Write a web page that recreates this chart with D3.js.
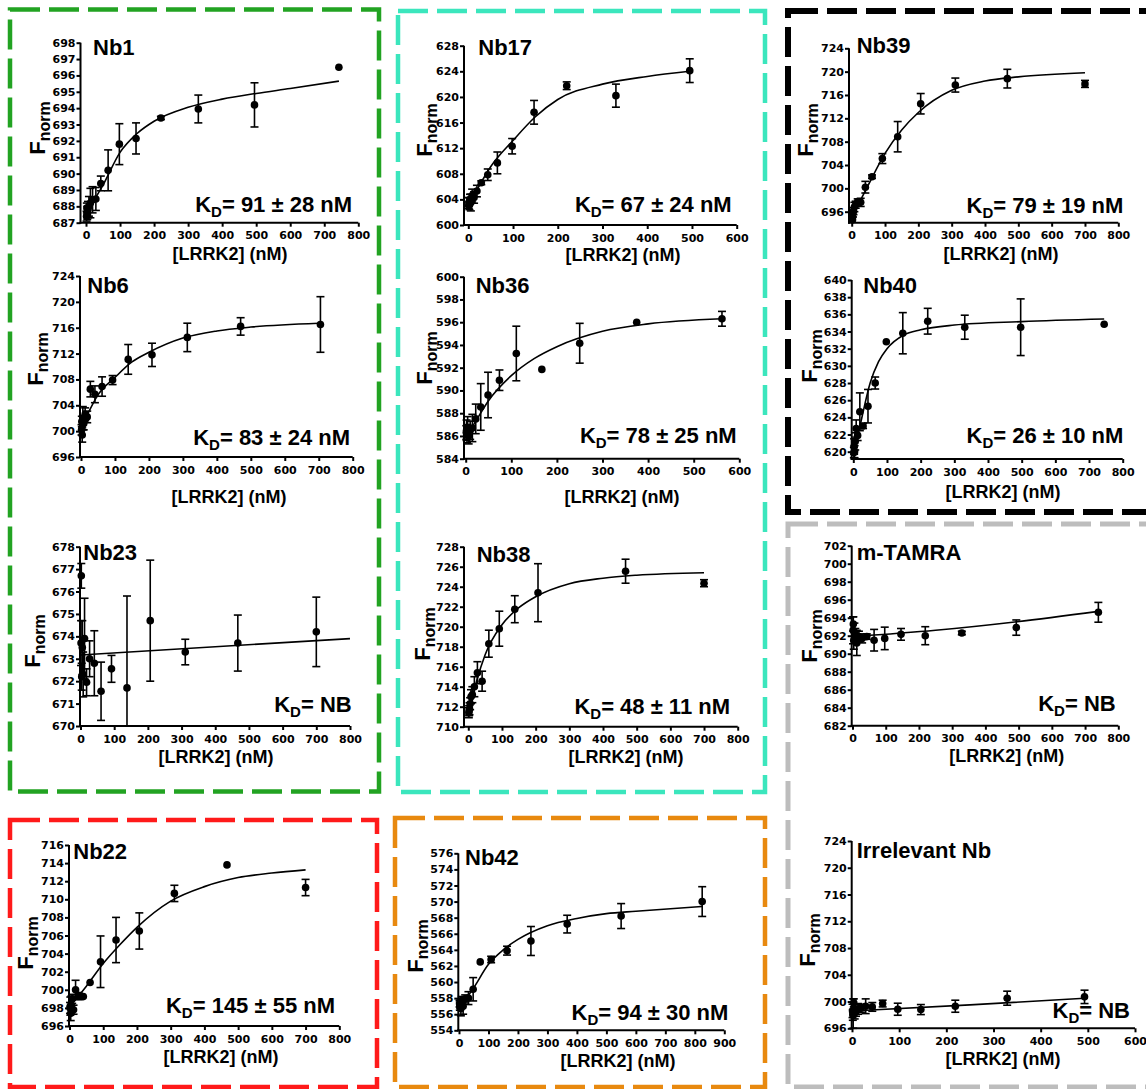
<!DOCTYPE html>
<html>
<head>
<meta charset="utf-8">
<script src="https://cdn.jsdelivr.net/npm/d3@7/dist/d3.min.js"></script>
<style>
  body { margin: 0; background: #fff; }
  svg text { font-family: "Liberation Sans", Arial, sans-serif; font-weight: bold; fill: #000; }
  .tick text { font-family: "DejaVu Sans", sans-serif; font-size: 11px; font-weight: bold; }
</style>
</head>
<body>
<script>
// tick labels shared by several panels
var xTicks600 = [0, 100, 200, 300, 400, 500, 600];
var xTicks800 = [0, 100, 200, 300, 400, 500, 600, 700, 800];
var xTicks900 = [0, 100, 200, 300, 400, 500, 600, 700, 800, 900];

// Nb1
var nb1Conc  = [743, 495, 330, 220, 147, 98, 65, 43.5, 29, 19.3, 12.9, 8.6, 5.7, 3.8, 2.5, 1.7];
var nb1Fnorm = [696.5, 694.2, 693.95, 693.4, 692.15, 691.8, 690.2, 689.4, 688.45, 688.4, 688.2, 688.0, 687.8, 687.6, 687.9, 687.4];
var nb1Sd    = [0, 1.35, 0.85, 0.1, 0.95, 1.25, 1.25, 0.45, 0.7, 0.8, 0.9, 0.6, 0.5, 0.4, 0.3, 0.3];
var nb1FitX  = [0, 25, 50, 100, 150, 200, 300, 400, 500, 600, 743];
var nb1FitY  = [687.4, 688.4, 689.3, 691.3, 692.45, 693.2, 694.05, 694.55, 694.9, 695.2, 695.65];
var nb1YTicks = [687, 688, 689, 690, 691, 692, 693, 694, 695, 696, 697, 698];

// Nb17
var nb17Conc  = [495, 330, 220, 147, 98, 65, 43.5, 29, 19.3, 12.9, 8.6, 5.7, 3.8, 2.5, 1.7, 1.1];
var nb17Fnorm = [624.1, 620.2, 621.75, 617.6, 612.3, 609.7, 607.85, 606.6, 605.3, 604.3, 604.6, 603.5, 604.0, 603.3, 603.6, 603.1];
var nb17Sd    = [1.85, 1.8, 0.6, 1.85, 1.2, 1.7, 0.9, 0.3, 0.9, 0.9, 1.0, 1.3, 0.8, 0.9, 0.7, 0.5];
var nb17FitX  = [0, 25, 50, 100, 150, 200, 300, 400, 495];
var nb17FitY  = [603.0, 606.2, 609.1, 613.2, 616.9, 619.6, 622.0, 623.2, 624.0];
var nb17YTicks = [600, 604, 608, 612, 616, 620, 624, 628];

// Nb39
var nb39Conc  = [700, 467, 311, 207, 138, 92, 61, 41, 27, 18, 12, 8, 5.4, 3.6, 2.4, 1.6];
var nb39Fnorm = [717.9, 718.8, 717.7, 714.5, 708.85, 705.1, 702.0, 700.2, 697.6, 697.7, 697.2, 696.8, 696.1, 695.7, 694.6, 695.5];
var nb39Sd    = [0.6, 1.6, 1.2, 1.75, 2.6, 0.85, 0.3, 1.0, 0.7, 0.5, 0.6, 0.8, 0.6, 0.6, 0.5, 0.5];
var nb39FitX  = [0, 25, 50, 100, 150, 200, 300, 400, 500, 700];
var nb39FitY  = [695.2, 697.8, 700.6, 706.0, 710.0, 713.0, 716.8, 718.4, 719.1, 719.8];
var nb39YTicks = [696, 700, 704, 708, 712, 716, 720, 724];

// Nb6
var nb6Conc  = [705, 470, 313, 209, 139, 93, 62, 41, 27.5, 18.3, 12.2, 8.1, 5.4, 3.6, 2.4, 1.6];
var nb6Fnorm = [716.5, 716.2, 714.5, 711.8, 711.1, 707.9, 706.9, 705.7, 706.5, 702.2, 702.6, 701.2, 702.0, 699.4, 701.5, 700.2];
var nb6Sd    = [4.3, 1.35, 2.2, 1.8, 2.3, 0.7, 1.5, 1.3, 1.2, 0.9, 1.0, 1.0, 1.8, 1.1, 0.8, 0.8];
var nb6FitX  = [0, 25, 50, 100, 150, 200, 300, 400, 500, 700];
var nb6FitY  = [700.4, 703.2, 705.6, 708.3, 710.7, 712.2, 714.4, 715.5, 716.1, 716.7];
var nb6YTicks = [696, 700, 704, 708, 712, 716, 720, 724];

// Nb36
var nb36Conc  = [562, 375, 250, 167, 111, 74, 49, 33, 22, 14.6, 9.8, 6.5, 4.3, 2.9, 1.9, 1.3];
var nb36Fnorm = [596.3, 596.0, 594.15, 591.85, 593.25, 590.9, 589.6, 588.55, 587.5, 586.7, 586.5, 586.0, 586.7, 586.2, 586.5, 586.3];
var nb36Sd    = [0.65, 0, 1.75, 0, 2.4, 0.9, 2.0, 2.05, 1.3, 1.2, 0.8, 0.7, 1.0, 0.8, 0.9, 0.6];
var nb36FitX  = [0, 25, 50, 100, 150, 200, 300, 400, 562];
var nb36FitY  = [585.8, 587.5, 589.1, 591.3, 592.8, 593.85, 595.2, 595.85, 596.3];
var nb36YTicks = [584, 586, 588, 590, 592, 594, 596, 598, 600];

// Nb40
var nb40Conc  = [745, 497, 331, 221, 147, 98, 65, 43.6, 29, 19.4, 12.9, 8.6, 5.7, 3.8, 2.5, 1.7];
var nb40Fnorm = [634.85, 634.5, 634.5, 635.2, 633.8, 632.8, 628.0, 625.3, 623.0, 624.65, 621.9, 622.7, 621.2, 620.0, 620.6, 619.9];
var nb40Sd    = [0, 3.3, 1.4, 1.5, 2.4, 0, 0.7, 1.95, 0.3, 2.2, 0.6, 1.0, 1.0, 0.7, 0.9, 0.6];
var nb40FitX  = [0, 25, 50, 75, 100, 150, 200, 300, 500, 745];
var nb40FitY  = [619.5, 623.9, 628.0, 630.5, 632.0, 633.6, 634.2, 634.75, 635.15, 635.45];
var nb40YTicks = [620, 622, 624, 626, 628, 630, 632, 634, 636, 638, 640];

// Nb23
var nb23Conc  = [700, 467, 311, 207, 138, 92, 61, 41, 27, 18, 12, 8, 5.4, 3.6, 2.4, 1.6];
var nb23Fnorm = [674.2, 673.7, 673.3, 674.7, 671.7, 672.55, 671.55, 672.8, 673.0, 671.95, 673.9, 672.3, 673.5, 672.2, 676.7, 673.7];
var nb23Sd    = [1.55, 1.25, 0.57, 2.7, 4.1, 0.6, 1.3, 1.45, 0.8, 0.6, 1.8, 1.0, 1.2, 0.6, 0.55, 1.0];
var nb23FitX  = [0, 800];
var nb23FitY  = [673.17, 673.9];
var nb23YTicks = [670, 671, 672, 673, 674, 675, 676, 677, 678];

// Nb38
var nb38Conc  = [700, 467, 207, 138, 92, 61, 41, 27, 18, 12, 8, 5.4, 3.6, 2.4, 1.6];
var nb38Fnorm = [724.35, 725.55, 723.4, 721.75, 719.8, 718.3, 714.55, 715.4, 714.0, 713.2, 713.0, 712.3, 711.8, 711.6, 711.4];
var nb38Sd    = [0.35, 1.2, 2.9, 1.35, 1.75, 1.35, 1.0, 1.1, 1.0, 0.8, 0.7, 0.6, 0.6, 0.5, 0.5];
var nb38FitX  = [0, 25, 50, 100, 150, 200, 300, 400, 500, 700];
var nb38FitY  = [711.2, 714.6, 717.2, 720.2, 721.9, 723.0, 724.3, 724.85, 725.15, 725.4];
var nb38YTicks = [710, 712, 714, 716, 718, 720, 722, 724, 726, 728];

// m-TAMRA
var tamraConc  = [740, 493, 329, 219, 146, 97, 65, 43, 29, 19.3, 12.9, 8.6, 5.7, 3.8, 2.5, 1.7];
var tamraFnorm = [694.6, 692.9, 692.3, 692.0, 692.15, 691.7, 691.5, 691.9, 691.7, 691.9, 691.2, 692.1, 692.4, 691.5, 693.3, 692.6];
var tamraSd    = [1.1, 0.85, 0.2, 1.0, 0.65, 1.25, 1.2, 0.3, 0.5, 0.6, 1.4, 0.7, 1.0, 1.0, 0.8, 1.5];
var tamraFitX  = [0, 250, 495, 740];
var tamraFitY  = [691.9, 692.6, 693.55, 694.7];
var tamraYTicks = [682, 684, 686, 688, 690, 692, 694, 696, 698, 700, 702];

// Nb22
var nb22Conc  = [700, 467, 311, 207, 138, 92, 61, 41, 27, 18, 12, 8, 5.4, 3.6, 2.4, 1.6];
var nb22Fnorm = [711.3, 713.8, 710.65, 706.5, 705.5, 703.1, 700.8, 699.25, 699.3, 700.0, 697.8, 699.0, 698.3, 697.4, 698.2, 698.0];
var nb22Sd    = [0.9, 0, 0.9, 2.0, 2.5, 2.85, 0, 0, 0.4, 1.05, 0.5, 0.5, 1.0, 0.8, 1.0, 0.6];
var nb22FitX  = [0, 50, 100, 150, 200, 300, 400, 500, 600, 700];
var nb22FitY  = [698.1, 700.4, 702.9, 705.0, 706.9, 709.8, 711.4, 712.4, 712.9, 713.25];
var nb22YTicks = [696, 698, 700, 702, 704, 706, 708, 710, 712, 714, 716];

// Nb42
var nb42Conc  = [825, 550, 367, 244, 163, 109, 72, 48, 32, 21, 14, 9.5, 6.4, 4.2, 2.8, 1.9];
var nb42Fnorm = [570.0, 568.2, 567.2, 565.1, 563.9, 562.8, 562.5, 559.1, 558.0, 557.9, 557.0, 557.7, 556.7, 557.3, 557.0, 557.3];
var nb42Sd    = [1.85, 1.55, 1.1, 1.8, 0.55, 0.4, 0, 1.45, 0.8, 0.5, 1.0, 0.5, 0.9, 0.6, 0.5, 0.4];
var nb42FitX  = [0, 25, 50, 100, 150, 200, 300, 400, 500, 600, 825];
var nb42FitY  = [557.2, 558.0, 559.3, 562.2, 564.0, 565.3, 567.0, 567.9, 568.5, 568.8, 569.4];
var nb42YTicks = [554, 556, 558, 560, 562, 564, 566, 568, 570, 572, 574, 576];

// Irrelevant Nb
var irrConc  = [493, 329, 219, 146, 97, 65, 43, 29, 19, 13, 8.5, 5.7, 3.8, 2.5, 1.7, 1.1];
var irrFnorm = [700.7, 700.5, 699.3, 698.8, 698.85, 699.7, 699.2, 699.3, 699.0, 698.9, 698.5, 698.3, 699.8, 698.2, 698.0, 698.6];
var irrSd    = [1.0, 1.05, 0.9, 0.75, 0.9, 0.5, 0.65, 1.1, 0.6, 0.8, 0.7, 0.9, 0.6, 2.2, 0.8, 1.0];
var irrFitX  = [0, 250, 493];
var irrFitY  = [698.6, 699.5, 700.5];
var irrYTicks = [696, 700, 704, 708, 712, 716, 720, 724];

var names = ["Nb1", "Nb17", "Nb39", "Nb6", "Nb36", "Nb40", "Nb23", "Nb38", "m-TAMRA", "Nb22", "Nb42", "Irrelevant Nb"];
var kdTexts = ["= 91 ± 28 nM", "= 67 ± 24 nM", "= 79 ± 19 nM", "= 83 ± 24 nM", "= 78 ± 25 nM", "= 26 ± 10 nM",
               "= NB", "= 48 ± 11 nM", "= NB", "= 145 ± 55 nM", "= 94 ± 30 nM", "= NB"];

// where each panel sits on the page (pixels)
var layout = [
  {left:80.5, x0:86, x1:358.3, yTop:42.7, yBot:222.7, axisY:222.7, tx:93, ty:55, kx:352, ky:212, xtx:230, xty:260, fx:45, fyc:128},
  {left:464, x0:468.3, x1:736.7, yTop:45.7, yBot:225, axisY:225, tx:478.3, ty:55, kx:731.7, ky:211.7, xtx:623, xty:261, fx:431.7, fyc:130},
  {left:849, x0:851.7, x1:1118.3, yTop:48.3, yBot:211.7, axisY:222.7, tx:856.7, ty:53, kx:1123.3, ky:213.3, xtx:1001, xty:260, fx:813, fyc:130},
  {left:80, x0:81, x1:352.7, yTop:276, yBot:457, axisY:457, tx:87.3, ty:293.3, kx:350, ky:445, xtx:229, xty:503, fx:43, fyc:359},
  {left:464, x0:465.7, x1:739.3, yTop:276.7, yBot:458.7, axisY:458.7, tx:475.7, ty:293.3, kx:736.7, ky:443.3, xtx:622, xty:503, fx:431.7, fyc:358},
  {left:851.7, x0:853.3, x1:1122.7, yTop:280, yBot:451.7, axisY:459, tx:863.3, ty:293.3, kx:1123.3, ky:443.3, xtx:1003, xty:498, fx:816.7, fyc:356},
  {left:80, x0:80.5, x1:350, yTop:546.7, yBot:726, axisY:726, tx:83.3, ty:560, kx:351.7, ky:712.3, xtx:216, xty:763, fx:40, fyc:641},
  {left:464, x0:468.3, x1:737.7, yTop:546.7, yBot:726.7, axisY:726.7, tx:476.7, ty:561.7, kx:730, ky:714.3, xtx:626, xty:763, fx:430, fyc:634},
  {left:851.7, x0:852.5, x1:1118.3, yTop:545.7, yBot:725.7, axisY:725.7, tx:856.7, ty:560, kx:1115.7, ky:710.7, xtx:1006.7, xty:761.7, fx:816.7, fyc:636},
  {left:69, x0:69.5, x1:339.3, yTop:845, yBot:1026, axisY:1026, tx:73.3, ty:859.3, kx:335, ky:1013.3, xtx:221, xty:1063, fx:33.3, fyc:943},
  {left:458.3, x0:459, x1:724.3, yTop:853.3, yBot:1030.3, axisY:1030.3, tx:465, ty:865, kx:728.3, ky:1020, xtx:618, xty:1066.7, fx:423.3, fyc:946},
  {left:851.7, x0:852, x1:1135, yTop:841, yBot:1028.3, axisY:1028.3, tx:856.7, ty:858.3, kx:1130, ky:1018.3, xtx:1003, xty:1064.5, fx:815, fyc:940}
];

var frames = [
  {x:10, y:9.5, w:369, h:782, color:"#22a322", sw:4.5},
  {x:398, y:11, w:367, h:781, color:"#3be6bd", sw:4.5},
  {x:788, y:11, w:380, h:501, color:"#000000", sw:6},
  {x:788, y:524, w:380, h:563, color:"#bdbdbd", sw:5},
  {x:10, y:820, w:367, h:267, color:"#ff1a1a", sw:4.5},
  {x:395, y:818, w:370, h:269, color:"#e8890f", sw:4.5}
];

var series = [
  [nb1Conc, nb1Fnorm, nb1Sd, nb1FitX, nb1FitY, xTicks800, nb1YTicks],
  [nb17Conc, nb17Fnorm, nb17Sd, nb17FitX, nb17FitY, xTicks600, nb17YTicks],
  [nb39Conc, nb39Fnorm, nb39Sd, nb39FitX, nb39FitY, xTicks800, nb39YTicks],
  [nb6Conc, nb6Fnorm, nb6Sd, nb6FitX, nb6FitY, xTicks800, nb6YTicks],
  [nb36Conc, nb36Fnorm, nb36Sd, nb36FitX, nb36FitY, xTicks600, nb36YTicks],
  [nb40Conc, nb40Fnorm, nb40Sd, nb40FitX, nb40FitY, xTicks800, nb40YTicks],
  [nb23Conc, nb23Fnorm, nb23Sd, nb23FitX, nb23FitY, xTicks800, nb23YTicks],
  [nb38Conc, nb38Fnorm, nb38Sd, nb38FitX, nb38FitY, xTicks800, nb38YTicks],
  [tamraConc, tamraFnorm, tamraSd, tamraFitX, tamraFitY, xTicks800, tamraYTicks],
  [nb22Conc, nb22Fnorm, nb22Sd, nb22FitX, nb22FitY, xTicks800, nb22YTicks],
  [nb42Conc, nb42Fnorm, nb42Sd, nb42FitX, nb42FitY, xTicks900, nb42YTicks],
  [irrConc, irrFnorm, irrSd, irrFitX, irrFitY, xTicks600, irrYTicks]
];

var svg = d3.select("body").append("svg")
    .attr("width", 1146)
    .attr("height", 1089);

// dashed frames
svg.selectAll(".frame")
    .data(frames)
  .enter().append("rect")
    .attr("class", "frame")
    .attr("x", function(d) { return d.x; })
    .attr("y", function(d) { return d.y; })
    .attr("width", function(d) { return d.w; })
    .attr("height", function(d) { return d.h; })
    .attr("fill", "none")
    .attr("stroke", function(d) { return d.color; })
    .attr("stroke-width", function(d) { return d.sw; })
    .attr("stroke-dasharray", "30,9");

series.forEach(function(s, i) { drawPanel(i, s, layout[i]); });

function drawPanel(i, s, p) {
  var conc = s[0], fnorm = s[1], sd = s[2], fitX = s[3], fitY = s[4], xTicks = s[5], yTicks = s[6];
  var g = svg.append("g");

  var x = d3.scaleLinear().domain([0, xTicks[xTicks.length - 1]]).range([p.x0, p.x1]);
  var y = d3.scaleLinear().domain([yTicks[0], yTicks[yTicks.length - 1]]).range([p.yBot, p.yTop]);
  var yMin = y.invert(p.axisY), yMax = yTicks[yTicks.length - 1];

  // axes
  var ya = g.append("g").attr("transform", "translate(" + p.left + ",0)")
      .call(d3.axisLeft(y).tickValues(yTicks).tickSize(4).tickPadding(1).tickSizeOuter(0).tickFormat(d3.format("d")));
  ya.select(".domain").remove();
  var xa = g.append("g").attr("transform", "translate(0," + p.axisY + ")")
      .call(d3.axisBottom(x).tickValues(xTicks).tickSize(4).tickPadding(5).tickSizeOuter(0).tickFormat(d3.format("d")));
  xa.select(".domain").remove();
  g.selectAll(".tick line").attr("stroke", "#000").attr("stroke-width", 2);

  g.append("line").attr("x1", p.left).attr("x2", p.left).attr("y1", p.axisY + 1).attr("y2", p.yTop)
      .attr("stroke", "#000").attr("stroke-width", 2);
  g.append("line").attr("x1", p.left - 1).attr("x2", p.x1).attr("y1", p.axisY).attr("y2", p.axisY)
      .attr("stroke", "#000").attr("stroke-width", 2);

  // fitted curve
  var line = d3.line()
      .x(function(d) { return x(d[0]); })
      .y(function(d) { return y(d[1]); })
      .curve(d3.curveMonotoneX);
  g.append("path")
      .datum(d3.zip(fitX, fitY))
      .attr("d", line)
      .attr("fill", "none")
      .attr("stroke", "#000")
      .attr("stroke-width", 1.6);

  // error bars
  var pts = d3.zip(conc, fnorm, sd);
  var bars = g.selectAll(".err")
      .data(pts.filter(function(d) { return d[2] > 0; }))
    .enter().append("g").attr("class", "err");
  bars.each(function(d) {
    var b = d3.select(this);
    var lo = Math.max(d[1] - d[2], yMin), hi = Math.min(d[1] + d[2], yMax);
    var cx = x(d[0]);
    b.append("line").attr("x1", cx).attr("x2", cx).attr("y1", y(lo)).attr("y2", y(hi))
        .attr("stroke", "#000").attr("stroke-width", 1.6);
    if (d[1] + d[2] <= yMax)
      b.append("line").attr("x1", cx - 4).attr("x2", cx + 4).attr("y1", y(hi)).attr("y2", y(hi))
          .attr("stroke", "#000").attr("stroke-width", 1.6);
    if (d[1] - d[2] >= yMin)
      b.append("line").attr("x1", cx - 4).attr("x2", cx + 4).attr("y1", y(lo)).attr("y2", y(lo))
          .attr("stroke", "#000").attr("stroke-width", 1.6);
  });

  // points
  g.selectAll(".dot")
      .data(pts)
    .enter().append("circle")
      .attr("class", "dot")
      .attr("cx", function(d) { return x(d[0]); })
      .attr("cy", function(d) { return y(d[1]); })
      .attr("r", 3.8)
      .attr("fill", "#000");

  // texts
  g.append("text").attr("x", p.tx).attr("y", p.ty).attr("font-size", 22).text(names[i]);

  var kd = g.append("text").attr("x", p.kx).attr("y", p.ky).attr("text-anchor", "end").attr("font-size", 22);
  kd.append("tspan").text("K");
  kd.append("tspan").attr("font-size", 15).attr("dy", 5).text("D");
  kd.append("tspan").attr("dy", -5).text(kdTexts[i]);

  g.append("text").attr("x", p.xtx).attr("y", p.xty).attr("text-anchor", "middle")
      .attr("font-size", 18).text("[LRRK2] (nM)");

  var fl = g.append("text").attr("transform", "translate(" + p.fx + "," + p.fyc + ") rotate(-90)")
      .attr("text-anchor", "middle");
  fl.append("tspan").attr("font-size", 22).text("F");
  fl.append("tspan").attr("font-size", 16).attr("dy", 5).text("norm");
}
</script>
</body>
</html>
